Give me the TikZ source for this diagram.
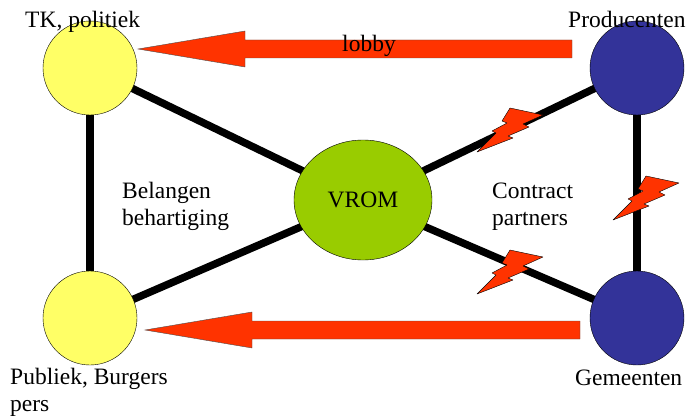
\documentclass[tikz,border=0pt]{standalone}
\usepackage{fontspec}
\setmainfont{Liberation Serif}
\usepackage{tikz}
\usetikzlibrary{shapes.geometric, calc, backgrounds, positioning}

\definecolor{partyyellow}{HTML}{FFFF66}
\definecolor{partyblue}{HTML}{333399}
\definecolor{vromgreen}{HTML}{99CC00}
\definecolor{lobbyred}{HTML}{FF3300}

% fat arrow from tail coordinate to tip coordinate (horizontal)
\newcommand{\fatarrow}[2]{%
    \draw[fat_arrow] let \p1=(#1), \p2=(#2) in
        (\x1,\y1+9pt) -- (\x2+107pt,\y1+9pt) -- (\x2+107pt,\y1+18pt) --
        (\x2,\y2) -- (\x2+107pt,\y1-18pt) -- (\x2+107pt,\y1-9pt) --
        (\x1,\y1-9pt) -- cycle;}

\begin{document}
\begin{tikzpicture}[
    x=1pt, y=-1pt,
    font=\fontsize{23.5}{27}\selectfont,
    party_node/.style={
        circle,
        draw=black,
        thin,
        minimum size=94pt,
        inner sep=0pt
    },
    vrom_node/.style={
        ellipse,
        draw=black,
        thin,
        fill=vromgreen,
        minimum width=138pt,
        minimum height=120pt,
        inner sep=0pt
    },
    label_node/.style={inner sep=0pt, anchor=base west, align=left},
    link/.style={line width=7.5pt, black},
    fat_arrow/.style={fill=lobbyred, draw=black!70, thin},
    bolt_shape/.style={fill=lobbyred, draw=black, thin, line join=round},
    bolt/.pic={
        \draw[bolt_shape] (0,-22) -- (33,-15) -- (13,-6) -- (19,-3) -- (-2,6) -- (3,8)
            -- (-33,22) -- (-14,3) -- (-18,1) -- (-3,-7) -- (-8,-9) -- cycle;
    }
]
    \useasboundingbox (0,0) rectangle (691,420);

    % Parties
    \node[party_node, fill=partyyellow] (tk) at (90,68) {};
    \node[party_node, fill=partyyellow] (publiek) at (90,318) {};
    \node[party_node, fill=partyblue] (prod) at (637,68) {};
    \node[party_node, fill=partyblue] (gem) at (637,318) {};
    \node[vrom_node] (vrom) at (363,200) {VROM};

    % Links
    \begin{scope}[on background layer]
        \draw[link] (tk.center) -- (vrom.center);
        \draw[link] (publiek.center) -- (vrom.center);
        \draw[link] (tk.center) -- (publiek.center);
        \draw[link] (prod.center) -- (vrom.center);
        \draw[link] (gem.center) -- (vrom.center);
        \draw[link] (prod.center) -- (gem.center);
    \end{scope}

    % Bolts
    \pic at (510,130) {bolt};
    \pic at (646,198) {bolt};
    \pic at (510,272) {bolt};

    % Arrows
    \coordinate (lobby_tail) at (572,49);
    \coordinate (lobby_tip) at (138,49);
    \coordinate (gem_tail) at (580,330);
    \coordinate (gem_tip) at (145,330);
    \fatarrow{lobby_tail}{lobby_tip}
    \fatarrow{gem_tail}{gem_tip}
    \node[inner sep=0pt, anchor=base] (lobby) at (369,52) {lobby};

    % Labels (base = last line)
    \node[label_node] (tk_label) at (25,28) {TK, politiek};
    \node[label_node] (prod_label) at (568,28) {Producenten};
    \node[label_node] (publiek_label) at (10,411) {Publiek, Burgers\\pers};
    \node[label_node] (gem_label) at (575,385) {Gemeenten};
    \node[label_node] (belangen) at (122,225) {Belangen\\behartiging};
    \node[label_node] (contract) at (492,225) {Contract\\partners};

\end{tikzpicture}
\end{document}
